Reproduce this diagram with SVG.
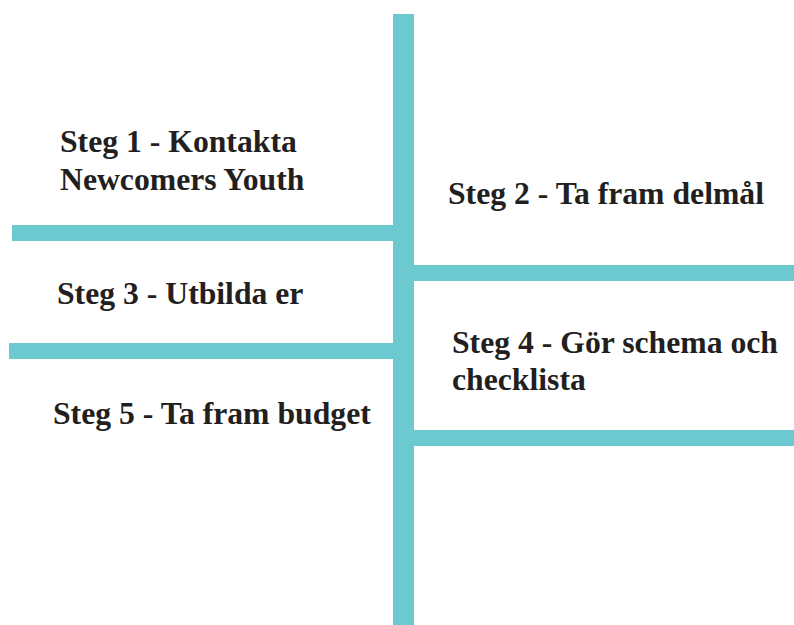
<svg xmlns="http://www.w3.org/2000/svg" width="794" height="625" viewBox="0 0 794 625">
<style>
.bar{fill:#6CC9D0}
.t{font-family:"Liberation Serif","Times New Roman",serif;font-weight:bold;font-size:31.7px;fill:#231F20}
</style>
<rect width="794" height="625" fill="#fff"/>
<g id="connectors">
<rect class="bar" x="393" y="14" width="21" height="611"/>
<rect class="bar" x="12" y="225" width="381" height="16"/>
<rect class="bar" x="9" y="343" width="384" height="16"/>
<rect class="bar" x="414" y="265" width="380" height="16"/>
<rect class="bar" x="414" y="430" width="380" height="16"/>
</g>
<g id="step1"><text class="t" x="60" y="152">Steg 1 - Kontakta</text><text class="t" x="60" y="190">Newcomers Youth</text></g>
<g id="step2"><text class="t" x="448" y="204">Steg 2 - Ta fram delmål</text></g>
<g id="step3"><text class="t" x="57" y="304">Steg 3 - Utbilda er</text></g>
<g id="step4"><text class="t" x="452" y="353">Steg 4 - Gör schema och</text><text class="t" x="452" y="390">checklista</text></g>
<g id="step5"><text class="t" x="53" y="424">Steg 5 - Ta fram budget</text></g>
</svg>
